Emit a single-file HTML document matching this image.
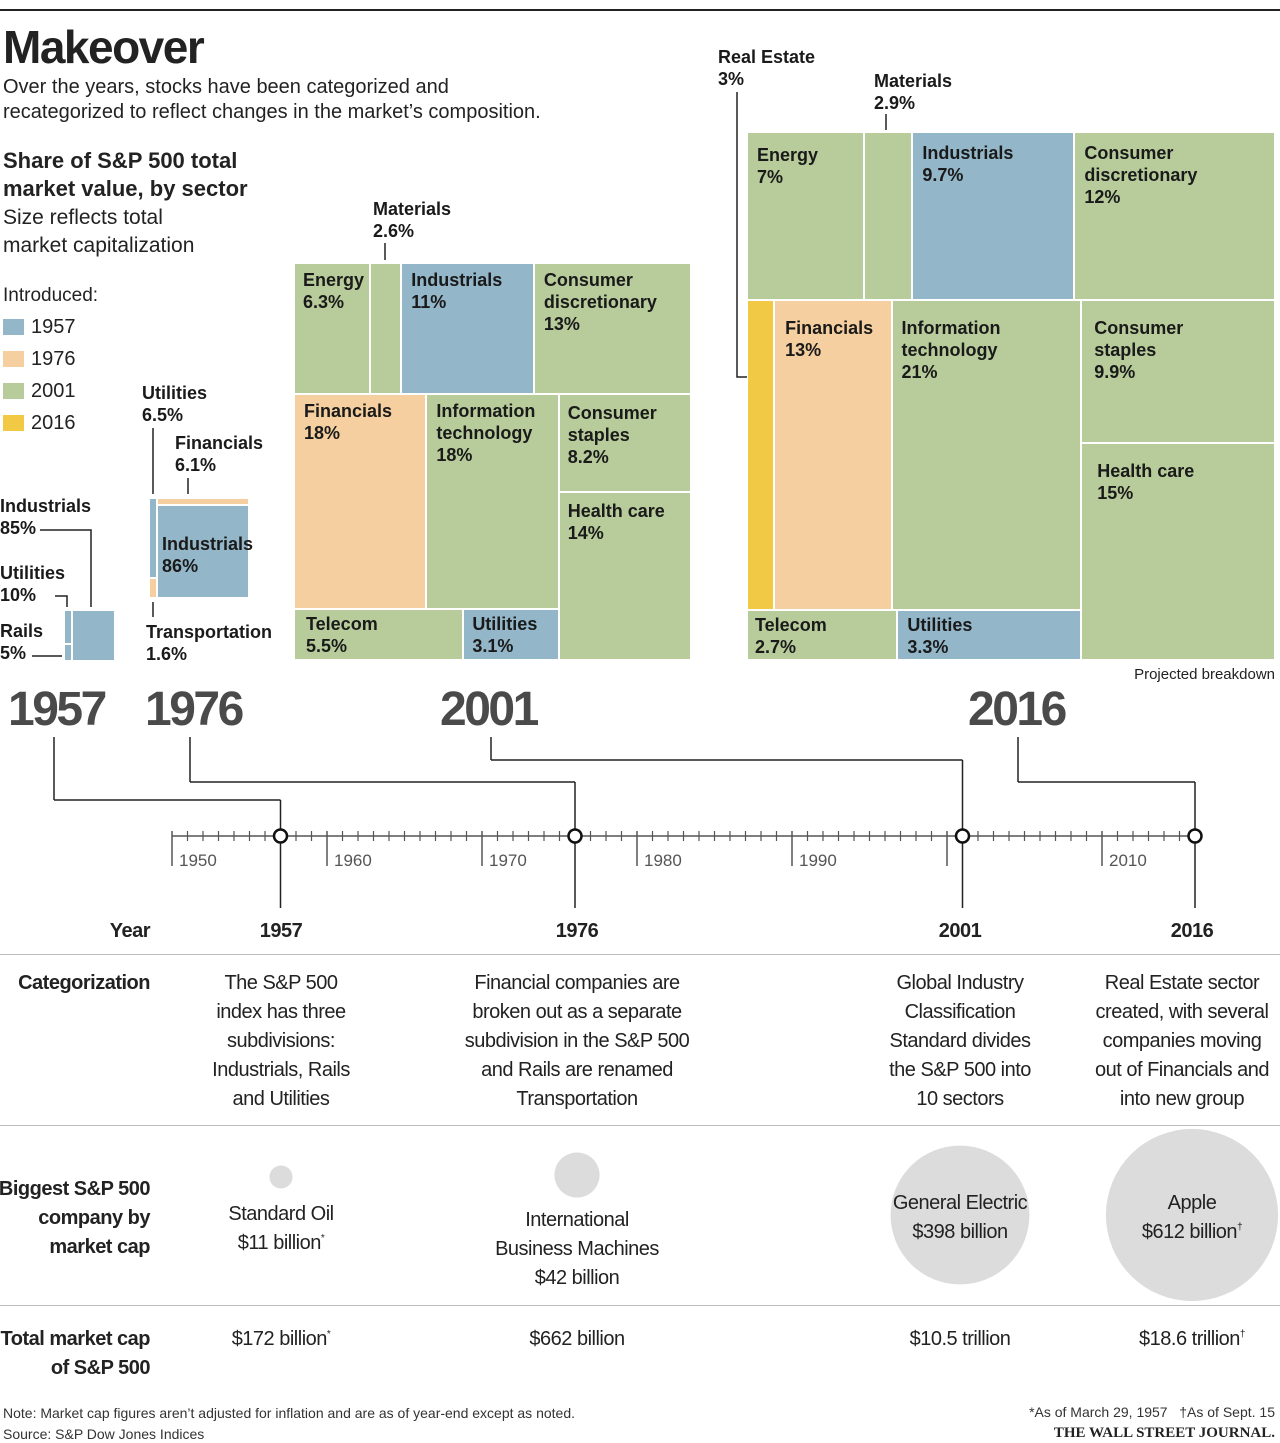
<!DOCTYPE html>
<html><head><meta charset="utf-8">
<style>
body{margin:0;background:#fff;}
#root{position:relative;width:1280px;height:1443px;overflow:hidden;font-family:"Liberation Sans Narrow","Liberation Sans",sans-serif;color:#222;}
.a{position:absolute;white-space:nowrap;}
.b{font-weight:bold;}
.lab{position:absolute;font-weight:bold;font-size:18px;line-height:22px;white-space:nowrap;color:#1a1a1a;}
.yr{position:absolute;font-weight:bold;font-size:48px;line-height:56px;color:#4a4a4a;letter-spacing:-2.5px;}
.rl{position:absolute;right:1130px;text-align:right;font-weight:bold;font-size:20px;line-height:29px;white-space:nowrap;letter-spacing:-0.5px;}
.col{position:absolute;width:260px;text-align:center;font-size:20px;line-height:29px;white-space:nowrap;letter-spacing:-0.5px;}
.sw{position:absolute;left:3px;width:21px;height:16px;}
.sp{font-size:10px;position:relative;top:-8px;line-height:0;}
</style></head>
<body>
<div id="root">
<div class="a" style="left:0;top:9px;width:1280px;height:2px;background:#222;"></div>
<div class="a b" style="left:3px;top:20px;font-size:46px;line-height:54px;letter-spacing:-1.5px;">Makeover</div>
<div class="a" style="left:3px;top:75px;font-size:20px;line-height:25px;">Over the years, stocks have been categorized and<br>recategorized to reflect changes in the market’s composition.</div>
<div class="a b" style="left:3px;top:147px;font-size:22px;line-height:28px;">Share of S&amp;P 500 total<br>market value, by sector</div>
<div class="a" style="left:3px;top:204px;font-size:21px;line-height:28px;">Size reflects total<br>market capitalization</div>
<div class="a" style="left:3px;top:284px;font-size:19px;line-height:24px;">Introduced:</div>
<div class="sw" style="top:319px;background:#93b6c8;"></div>
<div class="a" style="left:31px;top:315px;font-size:20px;line-height:24px;">1957</div>
<div class="sw" style="top:351px;background:#f5cf9f;"></div>
<div class="a" style="left:31px;top:347px;font-size:20px;line-height:24px;">1976</div>
<div class="sw" style="top:383px;background:#b7cc9a;"></div>
<div class="a" style="left:31px;top:379px;font-size:20px;line-height:24px;">2001</div>
<div class="sw" style="top:415px;background:#f1c944;"></div>
<div class="a" style="left:31px;top:411px;font-size:20px;line-height:24px;">2016</div>

<div id="maps"></div>

<div class="lab" style="left:718px;top:46px;">Real Estate<br>3%</div>
<div class="lab" style="left:874px;top:70px;">Materials<br>2.9%</div>
<div class="lab" style="left:373px;top:198px;">Materials<br>2.6%</div>
<div class="lab" style="left:142px;top:382px;">Utilities<br>6.5%</div>
<div class="lab" style="left:175px;top:432px;">Financials<br>6.1%</div>
<div class="lab" style="left:146px;top:621px;">Transportation<br>1.6%</div>
<div class="lab" style="left:0px;top:495px;">Industrials<br>85%</div>
<div class="lab" style="left:0px;top:562px;">Utilities<br>10%</div>
<div class="lab" style="left:0px;top:620px;">Rails<br>5%</div>
<div class="a" style="right:5px;top:666px;font-size:15px;line-height:18px;">Projected breakdown</div>

<div class="yr" style="left:8px;top:682px;">1957</div>
<div class="yr" style="left:145px;top:682px;">1976</div>
<div class="yr" style="left:440px;top:682px;">2001</div>
<div class="yr" style="left:968px;top:682px;">2016</div>

<svg id="lines" class="a" style="left:0;top:0;" width="1280" height="1443">
<g stroke="#222" stroke-width="1.5" fill="none">
<polyline points="737,92 737,377 747,377"/>
<line x1="886" y1="114" x2="886" y2="130"/>
<line x1="385" y1="243" x2="385" y2="260"/>
<line x1="153" y1="428" x2="153" y2="494"/>
<line x1="188" y1="478" x2="188" y2="494"/>
<line x1="153" y1="602" x2="153" y2="617"/>
<polyline points="40,530 91,530 91,607"/>
<polyline points="55,596 67,596 67,607"/>
<line x1="32" y1="656" x2="62" y2="656"/>
</g>
</svg>

<div class="rl" style="top:917px;">Year</div>
<div class="col b" style="left:151px;top:917px;">1957</div>
<div class="col b" style="left:447px;top:917px;">1976</div>
<div class="col b" style="left:830px;top:917px;">2001</div>
<div class="col b" style="left:1062px;top:917px;">2016</div>
<div class="a" style="left:0;top:954px;width:1280px;height:1px;background:#bbb;"></div>
<div class="rl" style="top:969px;">Categorization</div>
<div class="col" style="left:151px;top:969px;">The S&amp;P 500<br>index has three<br>subdivisions:<br>Industrials, Rails<br>and Utilities</div>
<div class="col" style="left:447px;top:969px;">Financial companies are<br>broken out as a separate<br>subdivision in the S&amp;P 500<br>and Rails are renamed<br>Transportation</div>
<div class="col" style="left:830px;top:969px;">Global Industry<br>Classification<br>Standard divides<br>the S&amp;P 500 into<br>10 sectors</div>
<div class="col" style="left:1052px;top:969px;">Real Estate sector<br>created, with several<br>companies moving<br>out of Financials and<br>into new group</div>
<div class="a" style="left:0;top:1125px;width:1280px;height:1px;background:#bbb;"></div>
<svg id="bubbles" class="a" style="left:0;top:0;" width="1280" height="1443"></svg>
<div class="rl" style="top:1175px;">Biggest S&amp;P 500<br>company by<br>market cap</div>
<div class="col" style="left:151px;top:1200px;">Standard Oil<br>$11 billion<span class="sp">*</span></div>
<div class="col" style="left:447px;top:1206px;">International<br>Business Machines<br>$42 billion</div>
<div class="col" style="left:830px;top:1189px;">General Electric<br>$398 billion</div>
<div class="col" style="left:1062px;top:1189px;">Apple<br>$612 billion<span class="sp">†</span></div>
<div class="a" style="left:0;top:1305px;width:1280px;height:1px;background:#bbb;"></div>
<div class="rl" style="top:1325px;">Total market cap<br>of S&amp;P 500</div>
<div class="col" style="left:151px;top:1325px;">$172 billion<span class="sp">*</span></div>
<div class="col" style="left:447px;top:1325px;">$662 billion</div>
<div class="col" style="left:830px;top:1325px;">$10.5 trillion</div>
<div class="col" style="left:1062px;top:1325px;">$18.6 trillion<span class="sp">†</span></div>
<div class="a" style="left:3px;top:1403px;font-size:14px;line-height:21px;color:#333;">Note: Market cap figures aren’t adjusted for inflation and are as of year-end except as noted.<br>Source: S&amp;P Dow Jones Indices</div>
<div class="a" style="right:5px;top:1403px;font-size:14px;line-height:19px;color:#333;">*As of March 29, 1957 &nbsp;&nbsp;†As of Sept. 15</div>
<div class="a b" style="right:5px;top:1424px;font-size:15px;line-height:18px;font-family:'Liberation Serif',serif;">THE WALL STREET JOURNAL.</div>
</div>
<script>
// ---- data ----
const introColor = {"1957":"#93b6c8","1976":"#f5cf9f","2001":"#b7cc9a","2016":"#f1c944"};
const totalCaps = [172, 662, 10500, 18600]; // $ billions
const names1957 = ["Utilities","Rails","Industrials"];
const values1957 = [10, 5, 85];
const intro1957 = ["1957","1957","1957"];
const names1976 = ["Utilities","Transportation","Financials","Industrials"];
const values1976 = [6.5, 1.6, 6.1, 86];
const intro1976 = ["1957","1976","1976","1957"];
const names2001 = ["Energy","Materials","Industrials","Consumer\ndiscretionary","Financials","Information\ntechnology","Telecom","Utilities","Consumer\nstaples","Health care"];
const values2001 = [6.3, 2.6, 11, 13, 18, 18, 5.5, 3.1, 8.2, 14];
const intro2001 = ["2001","2001","1957","2001","1976","2001","2001","1957","2001","2001"];
const names2016 = ["Energy","Materials","Industrials","Consumer\ndiscretionary","Real Estate","Financials","Information\ntechnology","Telecom","Utilities","Consumer\nstaples","Health care"];
const values2016 = [7, 2.9, 9.7, 12, 3, 13, 21, 2.7, 3.3, 9.9, 15];
const intro2016 = ["2001","2001","1957","2001","2016","1976","2001","2001","1957","2001","2001"];
const bubbleCaps = [11, 42, 398, 612];
const bubbleYears = [1957, 1976, 2001, 2016];
const axisTickLabels = ["1950","1960","1970","1980","1990","","2010"];

const tree1957 = ['h',[['v',[0,1]],2]];
const tree1976 = ['h',[['v',[0,1]],['v',[2,3]]]];
const tree2001 = ['v',[['h',[0,1,2,3]],['h',[['v',[['h',[4,5]],['h',[6,7]]]],['v',[8,9]]]]]];
const tree2016 = ['v',[['h',[0,1,2,3]],['h',[['v',[['h',[4,5,6]],['h',[7,8]]]],['v',[9,10]]]]]];

const K = 3.87;
function sumNode(n, vals){ return typeof n==='number' ? vals[n] : n[1].reduce((s,c)=>s+sumNode(c,vals),0); }
function layout(n, vals, x,y,w,h, out){
  if(typeof n==='number'){ out.push({i:n,x,y,w,h}); return; }
  const tot = sumNode(n,vals); let off=0;
  n[1].forEach(c=>{
    const f = sumNode(c,vals)/tot;
    if(n[0]==='h'){ layout(c,vals,x+off,y,w*f,h,out); off+=w*f; }
    else { layout(c,vals,x,y+off,w,h*f,out); off+=h*f; }
  });
}
const maps = document.getElementById('maps');
function drawMap(tag, tree, names, vals, intro, cap, left, bottom, labelSet, labelOffsets){
  const side = K*Math.sqrt(cap);
  const cells=[]; layout(tree, vals, left, bottom-side, side, side, cells);
  cells.forEach(c=>{
    const d=document.createElement('div');
    
    
    d.style.cssText='position:absolute;box-sizing:border-box;border:1px solid #fff;left:'+c.x+'px;top:'+c.y+'px;width:'+c.w+'px;height:'+c.h+'px;background:'+introColor[intro[c.i]]+';';
    maps.appendChild(d);
    if(labelSet.indexOf(c.i)>=0){
      const l=document.createElement('div');
      
      
      l.className='lab';
      const o = labelOffsets[c.i] || [10,6];
      l.style.left=(c.x+o[0])+'px'; l.style.top=(c.y+o[1])+'px';
      l.innerHTML = names[c.i].replace('\n','<br>')+'<br>'+vals[c.i]+'%';
      maps.appendChild(l);
    }
  });
}
drawMap('1957', tree1957, names1957, values1957, intro1957, totalCaps[0], 64, 661, [], {});
drawMap('1976', tree1976, names1976, values1976, intro1976, totalCaps[1], 149, 598, [3], {3:[5,28]});
drawMap('2001', tree2001, names2001, values2001, intro2001, totalCaps[2], 294, 660, [0,2,3,4,5,6,7,8,9], {0:[9,6],6:[12,4],7:[9,4],8:[9,8],9:[9,8]});
drawMap('2016', tree2016, names2016, values2016, intro2016, totalCaps[3], 747, 660, [0,2,3,5,6,7,8,9,10], {0:[10,12],2:[10,10],3:[10,10],5:[11,17],6:[10,17],9:[13,17],7:[8,4],8:[10,4],10:[16,17]});

const svg = document.getElementById('lines');
const NS='http://www.w3.org/2000/svg';
const x0=172, pxYr=15.5, ay=836;
const xYear = y => x0 + (y-1950)*pxYr;
function ln(x1,y1,x2,y2,name,sw){
  const e=document.createElementNS(NS,'line');
  
  
  e.setAttribute('x1',x1);e.setAttribute('y1',y1);e.setAttribute('x2',x2);e.setAttribute('y2',y2);
  e.setAttribute('stroke', name.indexOf('tick')>=0||name==='axis-line'?'#555':'#222');
  e.setAttribute('stroke-width',sw||1.5);
  svg.appendChild(e);
}
ln(x0,ay,xYear(2016.4),ay,'axis-line',1.5);
for(let y=1950;y<=2016;y++){
  if(y%10===0){ ln(xYear(y),ay-5,xYear(y),ay+30,'major-tick',1.5); }
  else ln(xYear(y),ay-5,xYear(y),ay+5,'minor-tick',1.2);
}
axisTickLabels.forEach((t,i)=>{
  const e=document.createElementNS(NS,'text');
  
  
  e.setAttribute('x',xYear(1950+i*10)+7);e.setAttribute('y',866);
  e.setAttribute('font-size','17');e.setAttribute('fill','#555');
  e.setAttribute('font-family','"Liberation Sans Narrow","Liberation Sans",sans-serif');
  e.textContent=t; svg.appendChild(e);
});
const labelAnchors=[[54,800],[190,782],[491,760],[1018,782]];
bubbleYears.forEach((yr,i)=>{
  const xe=xYear(yr), a=labelAnchors[i];
  ln(a[0],737,a[0],a[1],'connector-'+yr);
  ln(a[0],a[1],xe,a[1],'connector-'+yr);
  ln(xe,a[1],xe,ay-7,'connector-'+yr);
  ln(xe,ay+7,xe,908,'drop-line-'+yr);
  const c=document.createElementNS(NS,'circle');
  
  
  c.setAttribute('cx',xe);c.setAttribute('cy',ay);c.setAttribute('r',6.5);
  c.setAttribute('fill','#fff');c.setAttribute('stroke','#111');c.setAttribute('stroke-width',2.5);
  svg.appendChild(c);
});
const bsvg=document.getElementById('bubbles');
const bCenters=[[281,1177],[577,1175],[960,1215],[1192,1215]];
bubbleCaps.forEach((v,i)=>{
  const c=document.createElementNS(NS,'circle');
  
  
  c.setAttribute('cx',bCenters[i][0]);c.setAttribute('cy',bCenters[i][1]);
  c.setAttribute('r',3.48*Math.sqrt(v));c.setAttribute('fill','#dcdcdc');
  bsvg.appendChild(c);
});
</script>
</body></html>
